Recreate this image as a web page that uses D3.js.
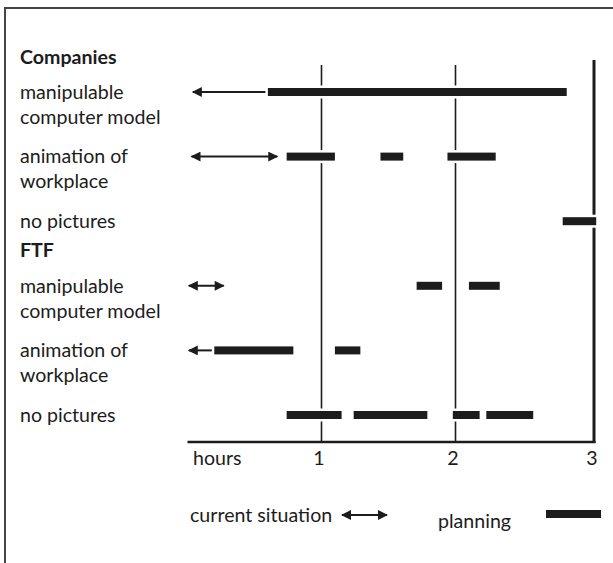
<!DOCTYPE html>
<html>
<head>
<meta charset="utf-8">
<script src="https://cdn.jsdelivr.net/npm/d3@7"></script>
<style>
  html, body { margin: 0; padding: 0; background: #fff; }
  svg { display: block; }
  text { font-family: "Lato", "Noto Sans", sans-serif; fill: #1c1c1c; }
  .heading { font-weight: 700; }
</style>
</head>
<body>
<div id="graphic"></div>
<script>
// Data
var groupNames = ["Companies", "FTF"];
var groupFirstRow = [0, 3];

var rowLabels = [
  ["manipulable", "computer model"],
  ["animation of", "workplace"],
  ["no pictures"],
  ["manipulable", "computer model"],
  ["animation of", "workplace"],
  ["no pictures"]
];

// current situation: [from, to, arrowheads] in hours
var currentSpans = [
  [0.04, 0.60, "left"],
  [0.03, 0.67, "both"],
  null,
  [0.01, 0.27, "both"],
  [0.01, 0.20, "left"],
  null
];

// planning: list of [start, end] in hours per row
var planningSpans = [
  [[0.60, 2.83]],
  [[0.74, 1.10], [1.44, 1.61], [1.94, 2.30]],
  [[2.80, 3.05]],
  [[1.71, 1.90], [2.10, 2.33]],
  [[0.20, 0.79], [1.10, 1.29]],
  [[0.74, 1.15], [1.24, 1.79], [1.98, 2.18], [2.23, 2.58]]
];

var hourTicks = [0, 1, 2, 3];
var tickLabels = ["hours", "1", "2", "3"];
var gridHours = [1, 2];

(function() {
  var
  W = 613,
  H = 563,
  ink = "#1c1c1c",
  fontSize = "19.6px",
  plot = { left: 187.5, right: 594, top: 60, bottom: 442 }
  ;

  var x = d3.scaleLinear().domain([0, 3]).range([plot.left, 589.5]);
  var y = d3.scalePoint().domain(d3.range(rowLabels.length)).range([92, 415]);

  var svg = d3.select("#graphic").append("svg")
    .attr("width", W)
    .attr("height", H);

  // one arrowhead, reversed at the start of a line
  svg.append("defs").append("marker")
    .attr("id", "head")
    .attr("markerUnits", "userSpaceOnUse")
    .attr("viewBox", "0 0 10 10")
    .attr("refX", 9)
    .attr("refY", 5)
    .attr("markerWidth", 11)
    .attr("markerHeight", 10)
    .attr("orient", "auto-start-reverse")
    .append("path")
      .attr("d", "M0,0 L10,5 L0,10 Z")
      .attr("fill", ink);

  // frame
  svg.append("path")
    .attr("d", "M5," + H + " V8 H" + W)
    .attr("fill", "none")
    .attr("stroke", "#444")
    .attr("stroke-width", 2);

  // grid lines at 1 and 2 hours
  svg.append("g").selectAll("line")
    .data(gridHours)
    .enter().append("line")
      .attr("x1", function(d) { return x(d); })
      .attr("x2", function(d) { return x(d); })
      .attr("y1", 65)
      .attr("y2", plot.bottom)
      .attr("stroke", ink)
      .attr("stroke-width", 1.6);

  // right edge
  svg.append("line")
    .attr("x1", plot.right).attr("x2", plot.right)
    .attr("y1", plot.top).attr("y2", plot.bottom + 1)
    .attr("stroke", ink)
    .attr("stroke-width", 3);

  // axis
  var axis = d3.axisBottom(x)
    .tickValues(hourTicks)
    .tickSize(0)
    .tickPadding(9)
    .tickFormat(function(d, i) { return tickLabels[i]; });

  var ax = svg.append("g")
    .attr("transform", "translate(0," + plot.bottom + ")")
    .call(axis)
    .attr("font-family", null)
    .attr("font-size", null);

  ax.select(".domain")
    .attr("d", "M" + x(0) + ",0 H" + (plot.right + 1.5))
    .attr("stroke", ink)
    .attr("stroke-width", 2.5);

  ax.selectAll(".tick text")
    .style("font-size", fontSize)
    .attr("fill", ink)
    .attr("dx", function(d) { return d == 0 ? 5 : (d == 3 ? 2 : -3); })
    .attr("text-anchor", function(d) { return d == 0 ? "start" : "middle"; });

  // group headings
  svg.append("g").selectAll("text")
    .data(groupNames)
    .enter().append("text")
      .attr("class", "heading")
      .attr("x", 20)
      .attr("y", function(d, i) { return y(groupFirstRow[i]) - 36; })
      .attr("dominant-baseline", "central")
      .style("font-size", fontSize)
      .text(function(d) { return d; });

  // row labels
  var labels = svg.append("g").selectAll("text")
    .data(rowLabels)
    .enter().append("text")
      .attr("x", 20)
      .attr("y", function(d, i) { return y(i); })
      .style("font-size", fontSize);

  labels.selectAll("tspan")
    .data(function(d) { return d; })
    .enter().append("tspan")
      .attr("x", 20)
      .attr("dy", function(d, i) { return i == 0 ? "0.35em" : 25; })
      .text(function(d) { return d; });

  // current situation arrows
  svg.append("g").selectAll("line")
    .data(currentSpans.map(function(d, i) { return d && { row: i, from: d[0], to: d[1], heads: d[2] }; })
      .filter(function(d) { return d; }))
    .enter().append("line")
      .attr("x1", function(d) { return x(d.from); })
      .attr("x2", function(d) { return x(d.to); })
      .attr("y1", function(d) { return y(d.row); })
      .attr("y2", function(d) { return y(d.row); })
      .attr("stroke", ink)
      .attr("stroke-width", 2)
      .attr("marker-start", "url(#head)")
      .attr("marker-end", function(d) { return d.heads == "both" ? "url(#head)" : null; });

  // planning bars (white halo breaks the vertical lines)
  var bars = [];
  planningSpans.forEach(function(spans, i) {
    spans.forEach(function(s) { bars.push({ row: i, start: s[0], end: s[1] }); });
  });

  svg.append("g").selectAll("rect")
    .data(bars)
    .enter().append("rect")
      .attr("x", function(d) { return x(d.start); })
      .attr("width", function(d) { return x(d.end) - x(d.start); })
      .attr("y", function(d) { return y(d.row) - 4; })
      .attr("height", 8)
      .attr("fill", ink)
      .attr("stroke", "#fff")
      .attr("stroke-width", 5)
      .attr("paint-order", "stroke");

  // legend
  var legend = svg.append("g");
  legend.append("text")
    .attr("x", 190)
    .attr("y", 514)
    .attr("dominant-baseline", "central")
    .style("font-size", fontSize)
    .text("current situation");
  legend.append("line")
    .attr("x1", 342).attr("x2", 387)
    .attr("y1", 515).attr("y2", 515)
    .attr("stroke", ink)
    .attr("stroke-width", 2)
    .attr("marker-start", "url(#head)")
    .attr("marker-end", "url(#head)");
  legend.append("text")
    .attr("x", 438)
    .attr("y", 520)
    .attr("dominant-baseline", "central")
    .style("font-size", fontSize)
    .text("planning");
  legend.append("rect")
    .attr("x", 546)
    .attr("y", 510)
    .attr("width", 55)
    .attr("height", 8)
    .attr("fill", ink);
})();
</script>
</body>
</html>
